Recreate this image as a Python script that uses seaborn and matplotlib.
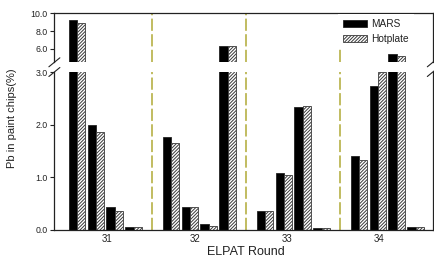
"""ELPAT round comparison: MARS vs hotplate digestion, broken y axis."""

import matplotlib

matplotlib.use("Agg")

import matplotlib.pyplot as plt
import pandas as pd
import seaborn as sns
from matplotlib.patches import Patch


rounds = ["31", "32", "33", "34"]
methods = ["MARS", "Hotplate"]
# four samples per round (% Pb)
mars = [9.23, 2.00, 0.44, 0.06,
        1.77, 0.44, 0.11, 6.35,
        0.36, 1.08, 2.33, 0.04,
        1.41, 2.74, 5.39, 0.06]
hotplate = [8.88, 1.86, 0.36, 0.06,
            1.66, 0.44, 0.08, 6.35,
            0.36, 1.05, 2.35, 0.04,
            1.33, 3.00, 5.19, 0.06]

sns.set_style("ticks")
plt.rcParams["font.family"] = ["Liberation Sans", "DejaVu Sans"]
plt.rcParams["hatch.linewidth"] = 0.7

HATCH = "/" * 10

# one empty slot between rounds, where the dashed separator sits
slots = [g * 5 + j for g in range(len(rounds)) for j in range(4)]
data = pd.DataFrame({
    "slot": slots * 2,
    "value": mars + hotplate,
    "method": ["MARS"] * len(mars) + ["Hotplate"] * len(hotplate),
})

fig = plt.figure(figsize=(4.35, 2.59), dpi=100)
ax_top = fig.add_axes([0.125, 0.7595, 0.87, 0.189])
ax_bot = fig.add_axes([0.125, 0.112, 0.87, 0.610])

edge = "#222222"
for ax in (ax_top, ax_bot):
    sns.barplot(
        data=data, x="slot", y="value", hue="method", hue_order=methods,
        palette={"MARS": "black", "Hotplate": "white"},
        native_scale=True, width=0.88, errorbar=None, legend=False,
        edgecolor=edge, linewidth=0.6, ax=ax,
    )
    for bar in ax.containers[1]:
        bar.set_hatch(HATCH)
        bar.set_edgecolor("#3a3a3a")
    for sep in (4, 9, 14):
        ax.axvline(sep, color="#b0aa35", lw=1.1, ls=(0, (8, 2.2)), zorder=1)
    ax.set_xlim(-1.21, 18.92)
    ax.set_xlabel("")
    ax.set_ylabel("")
    for side in ax.spines.values():
        side.set_color(edge)
        side.set_linewidth(0.9)
    ax.tick_params(axis="y", labelsize=6.3, length=3, width=0.8, pad=2, colors=edge)

ax_top.set_ylim(4.47, 10.0)
ax_top.set_yticks([6.0, 8.0, 10.0])
ax_top.set_yticklabels(["6.0", "8.0", "10.0"])
ax_top.spines["bottom"].set_visible(False)
ax_top.tick_params(axis="x", bottom=False, labelbottom=False)

ax_bot.set_ylim(0, 3.0)
ax_bot.set_yticks([0.0, 1.0, 2.0, 3.0])
ax_bot.set_yticklabels(["0.0", "1.0", "2.0", "3.0"])
ax_bot.spines["top"].set_visible(False)
ax_bot.set_xticks([1.58, 6.26, 11.15, 16.07])
ax_bot.set_xticklabels(rounds)
ax_bot.tick_params(axis="x", length=0, labelsize=7, pad=3, colors=edge)

# diagonal break marks on both sides
for ax, y, h in ((ax_top, 0.0, 49.0), (ax_bot, 1.0, 158.0)):
    dx, dy = 5.5 / 378.5, 4.5 / h
    for x in (0.0, 1.0):
        ax.plot([x - dx, x + dx], [y - dy, y + dy], transform=ax.transAxes,
                color=edge, lw=0.8, clip_on=False)

handles = [
    Patch(facecolor="black", edgecolor=edge, linewidth=0.6, label="MARS"),
    Patch(facecolor="white", edgecolor="#3a3a3a", hatch=HATCH,
          linewidth=0.6, label="Hotplate"),
]
leg = ax_top.legend(
    handles=handles, loc="upper left", bbox_to_anchor=(338 / 435, 1 - 14 / 259),
    bbox_transform=fig.transFigure, fontsize=7.3, frameon=True, fancybox=False,
    handlelength=2.4, handleheight=0.55, handletextpad=0.4, labelspacing=0.5,
    borderpad=0.5, borderaxespad=0,
)
leg.get_frame().set_facecolor("white")
leg.get_frame().set_edgecolor("none")
leg.get_frame().set_alpha(1)
for text in leg.get_texts():
    text.set_color(edge)

fig.text(12 / 435, 1 - 118 / 259, "Pb in paint chips(%)", rotation=90,
         ha="center", va="center", fontsize=8, color=edge)
fig.text(246 / 435, 1 - 252 / 259, "ELPAT Round", ha="center", va="center",
         fontsize=9, color=edge)

fig.savefig("out.png", dpi=100)
plt.close(fig)
